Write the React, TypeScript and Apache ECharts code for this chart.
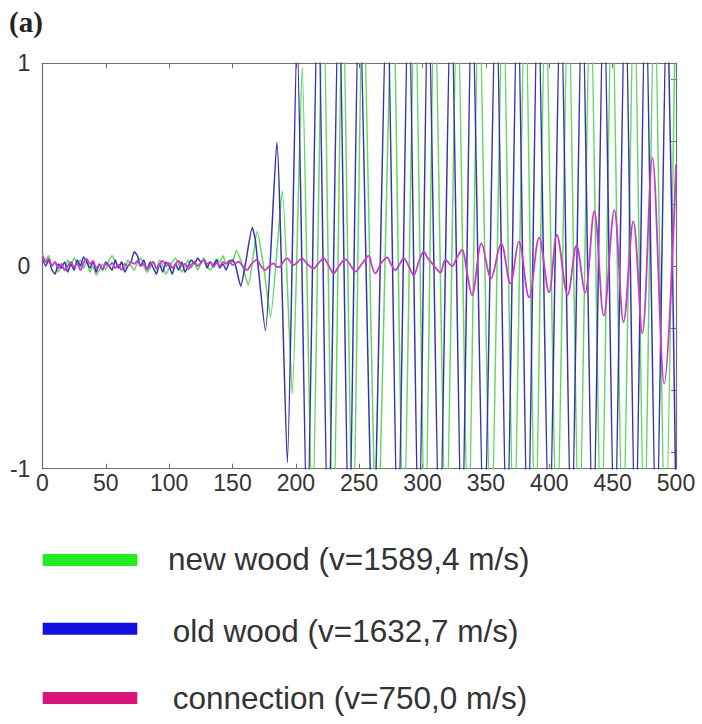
import React, { useEffect, useRef } from "react";
import * as echarts from "echarts";

const FONT = '"Liberation Sans", Arial, Helvetica, sans-serif';

const panelLabel = "(a)";
const seriesNames = [
  "new wood (v=1589,4 m/s)",
  "old wood (v=1632,7 m/s)",
  "connection (v=750,0 m/s)",
];
const lineColors = ["#62d862", "#3434b0", "#c83cc8"];
const legendColors = ["#22ec22", "#1010e0", "#d8157a"];
const rightTickValues = [-0.921, -0.614, -0.307, 0, 0.307, 0.614, 0.921];

const newWood: [number, number][] = [
  [0, 0.06], [2.5, 0.03], [5, 0.05], [7.5, 0], [10, 0.02], [12.5, -0.03], [15, 0], [17.5, -0.02],
  [20, 0.03], [22.5, 0], [25, 0.04], [27.5, 0.01], [30, 0.03], [32.5, -0.01], [35, 0.02], [37.5, -0.03],
  [40, 0], [42.5, -0.045], [45, -0.02], [47.5, 0.01], [50, -0.02], [52.5, 0.03], [55, 0.05], [57.5, 0.02],
  [60, -0.01], [62.5, 0.02], [65, -0.01], [67.5, 0.03], [70, 0], [72.5, -0.02], [75, 0.02], [77.5, 0.04],
  [80, 0], [82.5, -0.03], [85, -0.01], [87.5, 0.02], [90, -0.02], [92.5, 0.03], [95, 0], [97.5, -0.04],
  [100, -0.01], [102.5, 0.02], [105, 0.04], [107.5, 0.01], [110, -0.03], [112.5, 0], [115, 0.03], [117.5, -0.01],
  [120, 0.02], [122.5, -0.02], [125, 0.01], [127.5, 0.04], [130, 0], [132.5, -0.02], [135, 0.01], [137.5, 0.035],
  [140, 0.02], [142.5, 0.05], [145, 0.01], [147.5, 0.03], [150, 0.02], [153, 0.075], [157, 0.02], [162.5, -0.094],
  [169.5, 0.17], [174.5, 0], [180, -0.25], [189.3, 0.37], [197.2, -0.63], [205, 0.98], [213, -1.3],
  [221.5, 1.45], [229.5, -1.45], [237, 1.45], [245, -1.45], [253, 1.45], [264, -1.45], [276.5, 1.45],
  [285, -1.45], [294, 1.45], [302, -1.45], [309.5, 1.45], [318.5, -1.45], [327.5, 1.45], [336, -1.45],
  [344.5, 1.45], [354, -1.45], [363.5, 1.45], [372, -1.45], [381, 1.45], [389, -1.45], [397, 1.45],
  [406, -1.45], [415, 1.45], [423.5, -1.45], [432.5, 1.45], [441, -1.45], [449.5, 1.45], [458, -1.45],
  [467, 1.45], [475, -1.45], [483, 1.45], [491.5, -1.45], [500, 1.45],
];

const oldWood: [number, number][] = [
  [0, 0.04], [2.5, 0], [5, 0.03], [7.5, -0.02], [10, -0.04], [12.5, 0.01], [15, -0.01], [17.5, 0.02],
  [20, -0.03], [22.5, 0.01], [25, -0.02], [27.5, 0.03], [30, 0], [32.5, 0.045], [35, 0.02], [37.5, -0.01],
  [40, 0.02], [42.5, -0.03], [45, 0.01], [47.5, -0.02], [50, 0.02], [52.5, 0], [55, -0.02], [57.5, 0.03],
  [60, -0.01], [62.5, 0.02], [65, -0.03], [67.5, 0], [70, 0.02], [72.5, 0.07], [75, 0.05], [77.5, 0],
  [80, 0.03], [82.5, -0.02], [85, 0.02], [87.5, -0.01], [90, -0.04], [92.5, 0.01], [95, -0.03], [97.5, 0.02],
  [100, 0], [102.5, -0.04], [105, 0.01], [107.5, -0.02], [110, 0.02], [112.5, -0.03], [115, 0], [117.5, 0.03],
  [120, 0.01], [122.5, 0.04], [125, 0.02], [127.5, 0.03], [130, -0.01], [132.5, 0.02], [135, 0], [137.5, 0.03],
  [140, -0.01], [142.5, 0.01], [145, -0.02], [147.5, 0.02], [150, 0.03], [152.5, 0], [156.5, -0.1],
  [160.5, 0.02], [165.6, 0.19], [168, 0.13], [176, -0.32], [185, 0.61], [193.3, -0.97], [201, 1.15],
  [209, -1.35], [217.5, 1.45], [225.5, -1.45], [234, 1.45], [242, -1.45], [250, 1.45], [261, -1.45],
  [272, 1.45], [280.5, -1.45], [289, 1.45], [297, -1.45], [304.5, 1.45], [313.5, -1.45], [322.5, 1.45],
  [331, -1.45], [339, 1.45], [348.5, -1.45], [358, 1.45], [366.5, -1.45], [375, 1.45], [383, -1.45],
  [391, 1.45], [400, -1.45], [409, 1.45], [417.5, -1.45], [426, 1.45], [434.5, -1.45], [443, 1.45],
  [451.5, -1.45], [460, 1.45], [468, -1.45], [476, 1.45], [484.5, -1.45], [493, 1.45], [500, -1.2],
];

const connection: [number, number][] = [
  [0, 0.05], [2.5, 0.02], [5, 0.035], [7.5, 0], [10, 0.02], [12.5, -0.01], [15, 0.01], [17.5, -0.02],
  [20, 0], [22.5, 0.02], [25, -0.005], [27.5, 0.01], [30, -0.02], [32.5, 0.015], [35, 0.035], [37.5, 0.01],
  [40, 0.025], [42.5, -0.01], [45, 0.005], [47.5, -0.015], [50, 0.01], [52.5, 0], [55, 0.015], [57.5, -0.01],
  [60, 0.005], [62.5, -0.02], [65, 0.01], [67.5, 0], [70, 0.02], [72.5, 0.01], [75, 0.025], [77.5, 0],
  [80, 0.01], [82.5, -0.015], [85, 0.005], [87.5, 0.02], [90, -0.01], [92.5, 0.01], [95, 0.025], [97.5, 0],
  [100, 0.015], [102.5, -0.01], [105, 0.01], [107.5, 0.025], [110, 0], [112.5, 0.01], [115, -0.015], [117.5, 0.005],
  [120, 0.02], [122.5, 0], [125, 0.015], [127.5, 0.03], [130, 0.01], [132.5, 0.02], [135, -0.005], [137.5, 0.015],
  [140, 0], [142.5, 0.02], [145, 0.01], [147.5, 0.025], [150, 0.005], [154.8, 0.021], [158, 0], [161.4, -0.02],
  [165, 0.01], [169.2, 0.03], [172.5, 0], [175.8, -0.02], [179, 0], [182.4, 0.013], [185, -0.005], [187.7, -0.003],
  [190, 0.02], [193, 0.038], [198.2, 0.005], [201.5, 0.02], [204.8, 0.038], [209, 0.01], [214, -0.012], [218, 0.015],
  [222, 0.038], [226, 0], [229.8, -0.036], [234, 0], [239, 0.033], [243, 0.005], [246.9, -0.028], [252, 0.01],
  [257.5, 0.05], [260, 0], [262.7, -0.036], [267, 0.01], [272, 0.043], [275, 0.01], [278.5, -0.02], [282, 0.01],
  [285.2, 0.038], [289, 0], [293, -0.045], [297, 0.02], [301, 0.071], [304, 0.04], [307.5, 0.013], [310.5, -0.01],
  [314.1, -0.033], [318, 0.03], [323.4, 0], [327, 0.04], [331.2, 0.079], [335, -0.03], [339, -0.144], [346.5, 0.112],
  [354, -0.06], [362, 0.112], [369.3, -0.086], [376, 0.12], [384, -0.155], [392, 0.14], [399.8, -0.13], [406, 0.153],
  [414.5, -0.142], [421.5, 0.102], [428.2, -0.133], [435.5, 0.27], [443, -0.245], [451.3, 0.276], [458.6, -0.276],
  [466.3, 0.22], [473.4, -0.332], [481.3, 0.533], [490.7, -0.58], [500, 0.5],
];

const seriesData = [newWood, oldWood, connection];
const lineWidths = [1.5, 1.5, 1.8];
const smoothing = [0.18, 0.18, 0.35];

export default function App() {
  const ref = useRef<HTMLDivElement>(null);

  useEffect(() => {
    if (!ref.current) return;
    const chart = echarts.init(ref.current, null, { renderer: "svg" });
    const axisColor = "#6e6e6e";

    const legendGraphics: any[] = [];
    const barTops = [554, 622.7, 692];
    const textX = [168, 172.7, 172.7];
    const textY = [559, 630.5, 698];
    for (let i = 0; i < 3; i++) {
      legendGraphics.push({
        type: "rect",
        shape: { x: 42.7, y: barTops[i], width: 94.6, height: 12 },
        style: { fill: legendColors[i] },
      });
      legendGraphics.push({
        type: "text",
        style: {
          text: seriesNames[i],
          x: textX[i],
          y: textY[i],
          fill: "#333333",
          font: `31.5px ${FONT}`,
          textAlign: "left",
          textVerticalAlign: "middle",
        },
      });
    }
    legendGraphics.push({
      type: "text",
      style: {
        text: panelLabel,
        x: 9,
        y: 22,
        fill: "#222222",
        font: 'bold 29px "Liberation Serif", "Times New Roman", serif',
        textAlign: "left",
        textVerticalAlign: "middle",
      },
    });

    chart.setOption({
      animation: false,
      backgroundColor: "#ffffff",
      grid: { left: 42.4, top: 63.3, right: 26, bottom: 255.3, containLabel: false },
      xAxis: [
        {
          type: "value",
          min: 0,
          max: 500,
          interval: 50,
          position: "bottom",
          axisLine: { show: true, onZero: false, lineStyle: { color: axisColor, width: 1.2 } },
          axisTick: { show: true, inside: true, length: 5, lineStyle: { color: axisColor } },
          axisLabel: { fontSize: 23, color: "#333333", margin: 3, fontFamily: FONT },
          splitLine: { show: false },
        },
        {
          type: "value",
          min: 0,
          max: 500,
          interval: 50,
          position: "top",
          axisLine: { show: true, onZero: false, lineStyle: { color: axisColor, width: 1.2 } },
          axisTick: { show: true, inside: true, length: 5, lineStyle: { color: axisColor } },
          axisLabel: { show: false },
          splitLine: { show: false },
        },
      ],
      yAxis: [
        {
          type: "value",
          min: -1,
          max: 1,
          interval: 1,
          position: "left",
          axisLine: { show: true, onZero: false, lineStyle: { color: axisColor, width: 1.2 } },
          axisTick: { show: false },
          axisLabel: { fontSize: 23, color: "#333333", margin: 12, fontFamily: FONT },
          splitLine: { show: false },
        },
        {
          type: "value",
          min: -1,
          max: 1,
          position: "right",
          axisLine: { show: true, onZero: false, lineStyle: { color: axisColor, width: 1.2 } },
          axisTick: {
            show: true,
            inside: true,
            length: 5,
            customValues: rightTickValues,
            lineStyle: { color: axisColor },
          },
          axisLabel: { show: false },
          splitLine: { show: false },
        },
      ],
      series: seriesData.map((d, i) => ({
        name: seriesNames[i],
        type: "line",
        xAxisIndex: 0,
        yAxisIndex: 0,
        data: d,
        smooth: smoothing[i],
        showSymbol: false,
        symbol: "none",
        clip: true,
        z: 2 + i,
        lineStyle: { color: lineColors[i], width: lineWidths[i] },
      })),
      graphic: legendGraphics,
    });

    return () => chart.dispose();
  }, []);

  return (
    <div
      ref={ref}
      style={{ position: "absolute", left: 0, top: 0, width: 702, height: 724, background: "#fff" }}
    />
  );
}
